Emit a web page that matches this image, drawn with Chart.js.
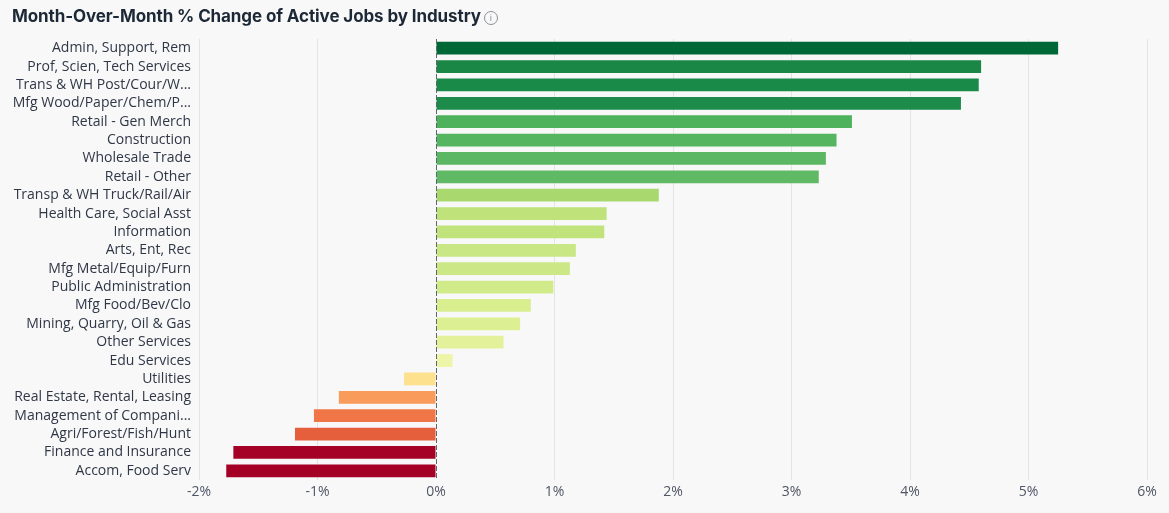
<!DOCTYPE html>
<html>
<head>
<meta charset="utf-8">
<script src="https://cdn.jsdelivr.net/npm/chart.js@4"></script>
<style>
  body { margin: 0; background: #f8f8f8; }
  #wrap { position: relative; width: 1169px; height: 513px; }
  #title {
    position: absolute; left: 12px; top: 6px;
    font-family: Inter, sans-serif; font-weight: 700; font-size: 17px;
    color: #1c2836; letter-spacing: -0.1px;
  }
  #title .info {
    display: inline-block; width: 12px; height: 12px; border: 1px solid #8a8f98;
    border-radius: 50%; font-size: 9px; line-height: 12px; text-align: center;
    color: #8a8f98; font-weight: 400; vertical-align: 1px; margin-left: 3px;
  }
  canvas { position: absolute; left: 0; top: 0; }
</style>
</head>
<body>
<div id="wrap">
  <canvas id="jobs" width="1169" height="513"></canvas>
  <div id="title">Month-Over-Month % Change of Active Jobs by Industry<span class="info">i</span></div>
</div>
<script>
// industries, top to bottom
let industries = ["Admin, Support, Rem", "Prof, Scien, Tech Services", "Trans & WH Post/Cour/W...",
  "Mfg Wood/Paper/Chem/P...", "Retail - Gen Merch", "Construction", "Wholesale Trade", "Retail - Other",
  "Transp & WH Truck/Rail/Air", "Health Care, Social Asst", "Information", "Arts, Ent, Rec",
  "Mfg Metal/Equip/Furn", "Public Administration", "Mfg Food/Bev/Clo", "Mining, Quarry, Oil & Gas",
  "Other Services", "Edu Services", "Utilities", "Real Estate, Rental, Leasing", "Management of Compani...",
  "Agri/Forest/Fish/Hunt", "Finance and Insurance", "Accom, Food Serv"];

// % change month over month
let pctChange = [5.25, 4.60, 4.58, 4.43, 3.51, 3.38, 3.29, 3.23,
  1.88, 1.44, 1.42, 1.18, 1.13, 0.99, 0.80, 0.71,
  0.57, 0.14, -0.27, -0.82, -1.03, -1.19, -1.71, -1.77];

let barColors = ["#006837", "#1a8747", "#1a8a49", "#1d8c4b", "#4eb15c", "#56b561", "#5bb763", "#60b964",
  "#a8d86e", "#bfe27b", "#c1e37c", "#c9e784", "#cce886", "#d2eb8a", "#d8ee8f", "#dcef92",
  "#e3f29a", "#eef5a8", "#fee18e", "#f99b5a", "#f07647", "#e65f3c", "#a50026", "#a50026"];

let xTicks = [-2, -1, 0, 1, 2, 3, 4, 5, 6];

let zeroLine = {
  id: "zeroLine",
  afterDatasetsDraw(chart) {
    let x = chart.scales.x.getPixelForValue(0);
    let area = chart.chartArea;
    let ctx = chart.ctx;
    ctx.save();
    ctx.strokeStyle = "#5f6670";
    ctx.lineWidth = 1;
    ctx.setLineDash([5, 2]);
    ctx.beginPath();
    ctx.moveTo(Math.round(x) + 0.5, area.top);
    ctx.lineTo(Math.round(x) + 0.5, area.bottom);
    ctx.stroke();
    ctx.restore();
  }
};

new Chart(document.getElementById("jobs"), {
  type: "bar",
  data: {
    labels: industries,
    datasets: [{
      label: "MoM % Change",
      data: pctChange,
      backgroundColor: barColors,
      borderWidth: 0,
      categoryPercentage: 1,
      barPercentage: 0.7
    }]
  },
  options: {
    indexAxis: "y",
    responsive: false,
    animation: false,
    layout: { padding: { top: 39, right: 22, bottom: 5, left: 0 } },
    plugins: { legend: { display: false }, tooltip: { enabled: false } },
    scales: {
      x: {
        min: -2,
        max: 6,
        afterBuildTicks(scale) {
          scale.ticks = xTicks.map(v => ({ value: v }));
        },
        afterFit(scale) { scale.height = 28; },
        border: { display: false },
        grid: {
          drawTicks: false,
          color: ctx => ctx.tick && ctx.tick.value === 0 ? "rgba(0,0,0,0)" : "#e4e4e4"
        },
        ticks: {
          padding: 4,
          color: "#4f5665",
          font: { family: "'Open Sans'", size: 14 },
          callback: v => v + "%"
        }
      },
      y: {
        afterFit(scale) { scale.width = 199; },
        border: { display: false },
        grid: { display: false, drawTicks: false },
        ticks: {
          padding: 8,
          autoSkip: false,
          color: "#2f3747",
          font: { family: "'Open Sans'", size: 14 }
        }
      }
    }
  },
  plugins: [zeroLine]
});
</script>
</body>
</html>
